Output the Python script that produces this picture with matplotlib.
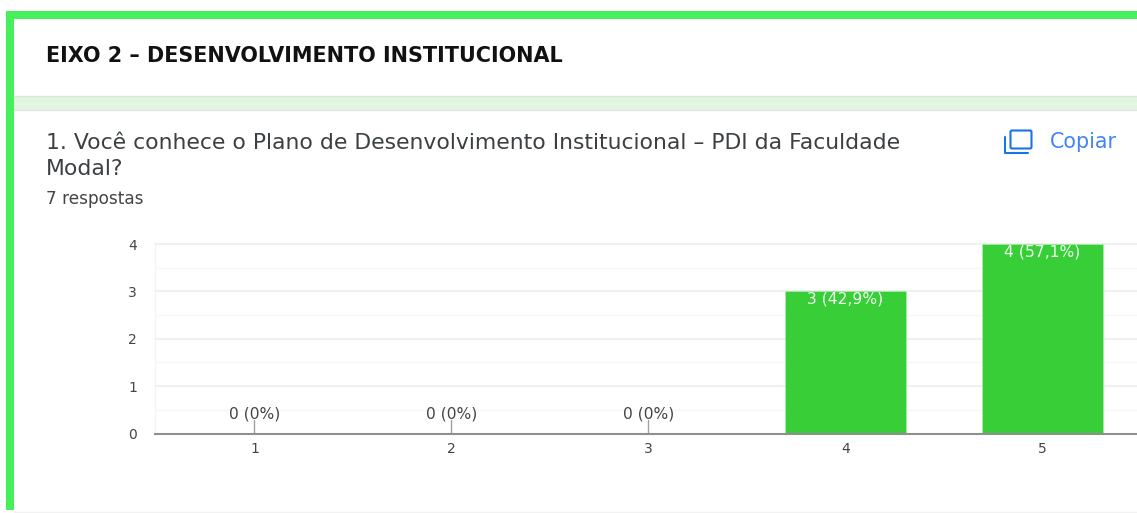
import matplotlib
matplotlib.use("Agg")
import matplotlib.pyplot as plt
from matplotlib.patches import Rectangle, FancyBboxPatch

section_title = "EIXO 2 – DESENVOLVIMENTO INSTITUCIONAL"
question_lines = ["1. Você conhece o Plano de Desenvolvimento Institucional – PDI da Faculdade", "Modal?"]
responses_label = "7 respostas"
copy_label = "Copiar"
categories = [1, 2, 3, 4, 5]
counts = [0, 0, 0, 3, 4]
labels = ["0 (0%)", "0 (0%)", "0 (0%)", "3 (42,9%)", "4 (57,1%)"]
y_ticks = [0, 1, 2, 3, 4]
y_minor = [0.5, 1.5, 2.5, 3.5]

W, H = 1137, 513
plt.rcParams['font.family'] = ['DejaVu Sans']
fig = plt.figure(figsize=(W / 100, H / 100), dpi=100, facecolor='white')
renderer = fig.canvas.get_renderer()


def fit(t, width):
    """Scale a text's font size so that it spans the given pixel width."""
    t.set_fontsize(t.get_fontsize() * width / t.get_window_extent(renderer).width)
    return t


# page chrome in pixel coordinates
bg = fig.add_axes([0, 0, 1, 1], zorder=0)
bg.set_xlim(0, W); bg.set_ylim(H, 0); bg.axis('off')
bg.add_patch(Rectangle((6, 11), W - 6, H - 14, fc='#46F05A', ec='none'))
bg.add_patch(Rectangle((14, 19), W - 14, H - 19, fc='white', ec='none'))
bg.add_patch(Rectangle((14, 96), W - 14, 14, fc='#E1F5E1', ec='none'))
bg.plot([14, W], [95.5, 95.5], color='#DEE5DE', lw=1)
bg.plot([14, W], [109.5, 109.5], color='#DDE3DD', lw=1)
bg.plot([14, W], [512, 512], color='#F2F2F2', lw=1)

fit(bg.text(46, 56.5, section_title, fontsize=13, fontweight='bold', color='#111111', va='center', ha='left'), 516)
q1 = fit(bg.text(46, 143, question_lines[0], fontsize=13, color='#3c4043', va='center', ha='left'), 850)
bg.text(46, 169, question_lines[1], fontsize=q1.get_fontsize(), color='#3c4043', va='center', ha='left')
fit(bg.text(46, 198.5, responses_label, fontsize=10, color='#444444', va='center', ha='left'), 97)
fit(bg.text(1050, 142, copy_label, fontsize=11, color='#4285F4', va='center', ha='left'), 67)

# copy icon
bg.add_patch(FancyBboxPatch((1010.5, 130.5), 21, 18, boxstyle='round,pad=0,rounding_size=1.5',
                            fc='none', ec='#1A73E8', lw=1.5))
bg.plot([1004.5, 1004.5, 1027.5], [137, 152.5, 152.5], color='#1A73E8', lw=1.5, solid_capstyle='round')

# chart
x0, x1 = 155, 1137
y0, y4 = 433.5, 244
ax = fig.add_axes([x0 / W, 1 - y0 / H, (x1 - x0) / W, (y0 - y4) / H], zorder=1)
ax.patch.set_alpha(0)
step = 197
ax.set_xlim(1 - (254.5 - x0) / step, 1 + (x1 - 254.5) / step)
ax.set_ylim(0, 4)
for s in ('top', 'right', 'left'):
    ax.spines[s].set_visible(False)
ax.spines['bottom'].set_color('#8f8f8f')
ax.spines['bottom'].set_linewidth(1.5)
ax.spines['bottom'].set_zorder(5)
ax.set_yticks(y_ticks)
ax.set_yticks(y_minor, minor=True)
ax.set_xticks(categories)
ax.tick_params(axis='both', which='both', length=0)
ax.tick_params(axis='y', pad=13, labelsize=10, labelcolor='#444444')
ax.tick_params(axis='x', pad=6, labelsize=10, labelcolor='#444444')
ax.grid(True, axis='y', which='major', color='#EFEFEF', lw=1.3, zorder=0, clip_on=False)
ax.grid(True, axis='y', which='minor', color='#F7F7F7', lw=1, zorder=0)
ax.axvline(ax.get_xlim()[0], color='#F3F3F3', lw=1, zorder=0)
ax.set_axisbelow(True)

bars = ax.bar(categories, counts, width=0.615, color='#38CE38', edgecolor='#A6EBA6', linewidth=0.6, zorder=3)
for xv, v, lab in zip(categories, counts, labels):
    if v == 0:
        ax.annotate('', xy=(xv, 0), xytext=(0, 13), textcoords='offset pixels',
                    arrowprops=dict(arrowstyle='-', color='#A0A0A0', lw=1, shrinkA=0, shrinkB=0), zorder=2)
        ax.annotate(lab, (xv, 0), xytext=(0, 19.5), textcoords='offset pixels', ha='center', va='center',
                    fontsize=11.2, color='#444444', zorder=4)
    else:
        ax.annotate(lab, (xv, v), xytext=(0, -8), textcoords='offset pixels', ha='center', va='center',
                    fontsize=11.2, color='#F0FFF0', zorder=4)

fig.savefig('out.png', dpi=100, facecolor='white')
